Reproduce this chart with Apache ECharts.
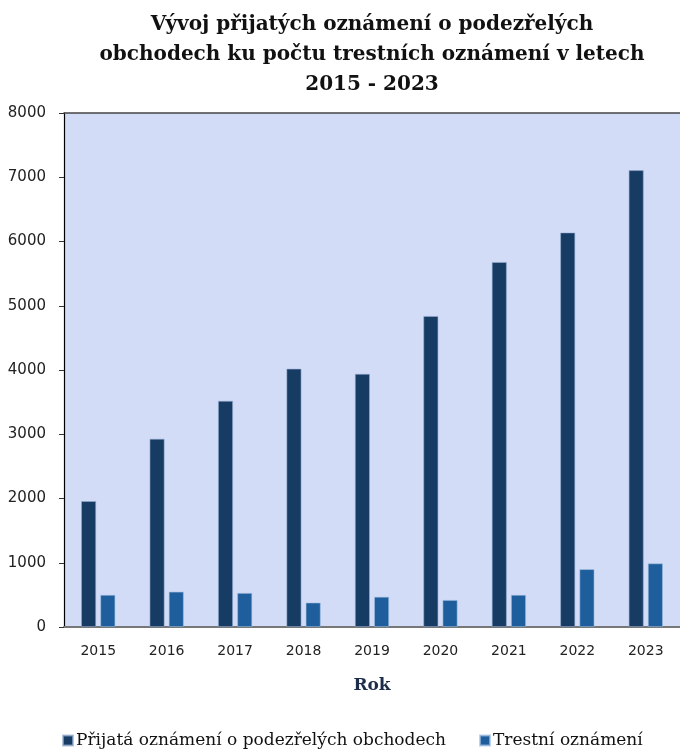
<!DOCTYPE html>
<html>
<head>
<meta charset="utf-8">
<script src="https://cdn.jsdelivr.net/npm/echarts@6/dist/echarts.min.js"></script>
<style>html,body{margin:0;padding:0;background:#fff}#c{width:680px;height:752px}</style>
</head>
<body>
<div id="c"></div>
<script>
const titleText = 'Vývoj přijatých oznámení o podezřelých\nobchodech ku počtu trestních oznámení v letech\n2015 - 2023';
const years = ['2015','2016','2017','2018','2019','2020','2021','2022','2023'];
const seriesNames = ['Přijatá oznámení o podezřelých obchodech', 'Trestní oznámení'];
const prijata = [1960, 2930, 3520, 4020, 3940, 4840, 5680, 6140, 7110];
const trestni = [500, 550, 530, 380, 470, 420, 500, 900, 990];
const yTicks = [0, 1000, 2000, 3000, 4000, 5000, 6000, 7000, 8000];

const chart = echarts.init(document.getElementById('c'), null, {renderer: 'canvas'});
chart.setOption({
  animation: false,
  backgroundColor: '#ffffff',
  title: {
    text: titleText,
    left: 367, textAlign: 'center', top: 5,
    textStyle: {fontFamily: 'DejaVu Serif', fontWeight: 'bold', fontSize: 20, lineHeight: 30, color: '#111'}
  },
  legend: {
    bottom: -2, left: 57,
    itemWidth: 10, itemHeight: 10, itemGap: 33,
    icon: 'rect',
    textStyle: {fontFamily: 'DejaVu Serif', fontSize: 17, color: '#111', padding: [0,0,0,-2]},
    data: seriesNames
  },
  grid: {
    left: 64, right: -6, top: 113, bottom: 125,
    show: true, backgroundColor: '#d3dcf6', borderWidth: 0
  },
  xAxis: [{
    type: 'category', data: years,
    name: 'Rok', nameLocation: 'middle', nameGap: 50,
    nameTextStyle: {fontFamily: 'DejaVu Serif', fontWeight: 'bold', fontSize: 17, color: '#1d2d4a'},
    axisLine: {lineStyle: {color: '#777777', width: 2}},
    axisTick: {show: false},
    axisLabel: {fontFamily: 'DejaVu Sans', fontSize: 14, color: '#222', margin: 17}
  }, {
    type: 'category', data: years, position: 'top',
    axisLine: {lineStyle: {color: '#444', width: 1.5}},
    axisTick: {show: false}, axisLabel: {show: false}
  }],
  yAxis: {
    type: 'value', min: 0, max: 8000, interval: 1000,
    axisLine: {show: true, lineStyle: {color: '#000', width: 1.2}},
    axisTick: {show: true, length: 5, lineStyle: {color: '#333'}},
    splitLine: {show: false},
    axisLabel: {fontFamily: 'DejaVu Sans', fontSize: 15, color: '#222', margin: 18,
      formatter: v => yTicks.includes(v) ? String(v) : ''}
  },
  series: [{
    name: seriesNames[0], type: 'bar', data: prijata,
    barWidth: 15, barGap: '28%',
    itemStyle: {color: '#173c64', borderColor: 'rgba(150,175,210,0.7)', borderWidth: 0.8}
  }, {
    name: seriesNames[1], type: 'bar', data: trestni,
    barWidth: 15,
    itemStyle: {color: '#1f5e9c', borderColor: 'rgba(160,190,225,0.7)', borderWidth: 0.8}
  }]
});
</script>
</body>
</html>
